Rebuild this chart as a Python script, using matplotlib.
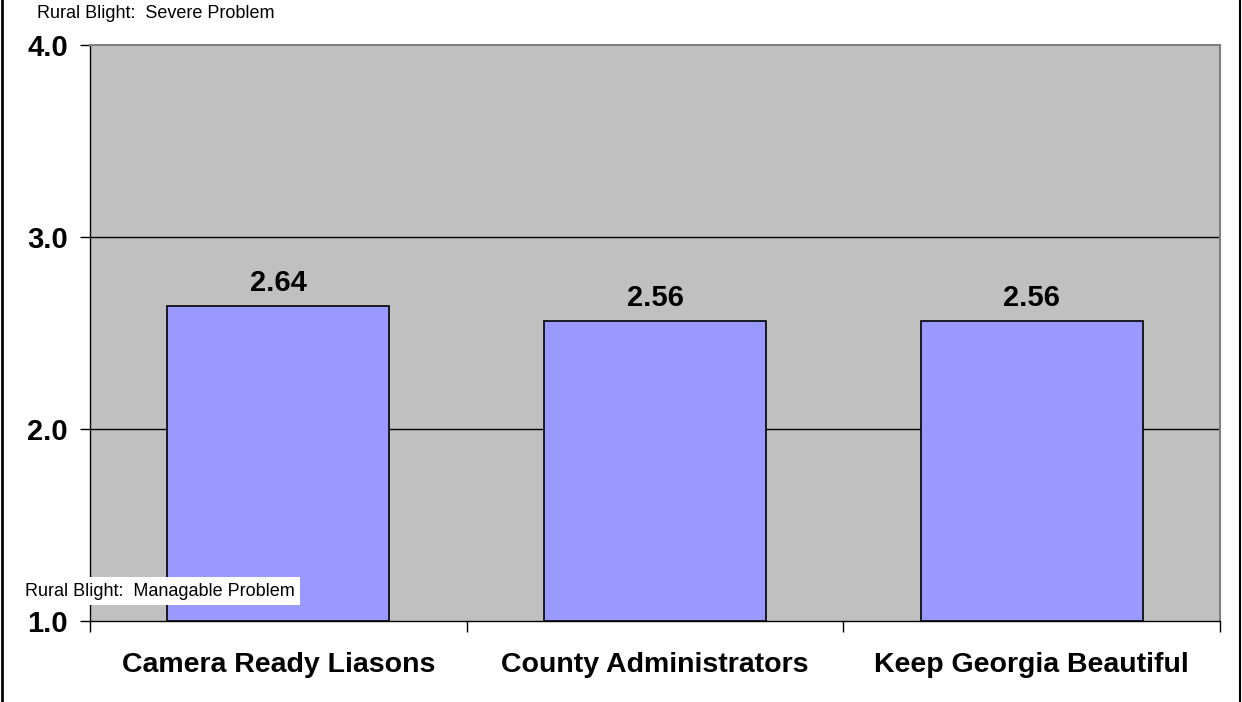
import numpy as np
from matplotlib import pyplot as plt
from matplotlib.lines import Line2D

# data
categories = ['Camera Ready Liasons', 'County Administrators', 'Keep Georgia Beautiful']
values = [2.64, 2.56, 2.56]
y_ticks = [1.0, 2.0, 3.0, 4.0]
top_note = 'Rural Blight:  Severe Problem'
bottom_note = 'Rural Blight:  Managable Problem'

plt.rcParams['font.family'] = ['Liberation Sans', 'DejaVu Sans']

fig = plt.figure(figsize=(12.42, 7.02), dpi=100)
ax = fig.add_axes([90/1242, 1 - 621/702, 1130/1242, 576/702])
ax.set_facecolor('#C0C0C0')

x = np.arange(len(categories))
ax.bar(x, [v - 1.0 for v in values], bottom=1.0, width=0.59,
       color='#9999FF', edgecolor='black', linewidth=1.2, zorder=3)

for xi, v in zip(x, values):
    ax.text(xi, v + 0.08, '%.2f' % v, ha='center', va='baseline',
            fontsize=21, fontweight='bold', zorder=4)

ax.set_xlim(-0.5, len(categories) - 0.5)
ax.set_ylim(1.0, 4.0)

# grid
for yv in y_ticks[1:-1]:
    ax.axhline(yv, color='black', linewidth=1, zorder=1)

ax.set_yticks(y_ticks)
ax.set_yticklabels(['%.1f' % t for t in y_ticks], fontsize=21, fontweight='bold')
ax.tick_params(axis='y', length=7, width=1, pad=9)

# category ticks at boundaries, labels centred
ax.set_xticks(np.arange(-0.5, len(categories)), minor=False)
ax.set_xticklabels([])
ax.set_xticks(x, minor=True)
ax.set_xticklabels(categories, minor=True, fontsize=20.5, fontweight='bold')
ax.tick_params(axis='x', which='major', length=8, width=1)
ax.tick_params(axis='x', which='minor', length=0, pad=22)

for side in ['top', 'right']:
    ax.spines[side].set_color('#808080')
    ax.spines[side].set_linewidth(1.5)
for side in ['left', 'bottom']:
    ax.spines[side].set_color('black')
    ax.spines[side].set_linewidth(1)

fig.text(37/1242, 1 - 14/702, top_note, fontsize=13, va='center', ha='left')
fig.text(25/1242, 1 - 591/702, bottom_note, fontsize=13, va='center', ha='left',
         bbox=dict(facecolor='white', edgecolor='none', pad=4))

# outer frame: left and right edges only
fig.lines.append(Line2D([2/1242, 2/1242], [0, 1], transform=fig.transFigure,
                        color='black', linewidth=2))
fig.lines.append(Line2D([1240/1242, 1240/1242], [0, 1], transform=fig.transFigure,
                        color='black', linewidth=1.5))

plt.savefig('out.png', dpi=100)
